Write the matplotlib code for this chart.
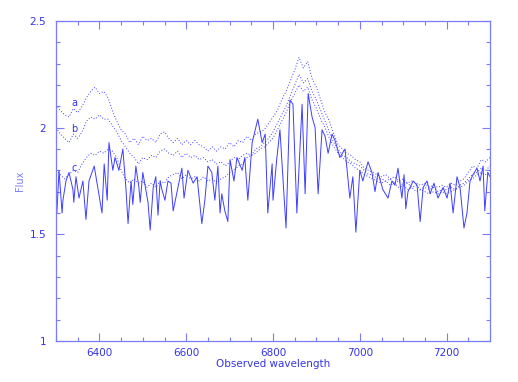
import numpy as np
import matplotlib.pyplot as plt
from matplotlib.ticker import MultipleLocator

# observed spectrum (solid line)
wave_obs = [6300, 6302, 6307, 6314, 6316, 6323, 6330, 6339, 6341, 6346,
            6353, 6362, 6369, 6376, 6388, 6397, 6406, 6411, 6418, 6422,
            6431, 6436, 6445, 6454, 6461, 6466, 6473, 6477, 6484, 6491,
            6494, 6500, 6512, 6517, 6524, 6530, 6535, 6540, 6544, 6551,
            6558, 6565, 6570, 6581, 6590, 6595, 6604, 6616, 6625, 6636,
            6643, 6650, 6659, 6666, 6673, 6678, 6682, 6689, 6696, 6701,
            6710, 6717, 6729, 6735, 6742, 6752, 6759, 6765, 6775, 6782,
            6788, 6798, 6800, 6809, 6816, 6830, 6839, 6846, 6855, 6867,
            6874, 6881, 6890, 6897, 6904, 6913, 6920, 6927, 6936, 6943,
            6954, 6966, 6977, 6984, 6991, 7000, 7007, 7019, 7028, 7035,
            7042, 7053, 7065, 7074, 7081, 7088, 7097, 7102, 7106, 7111,
            7123, 7132, 7139, 7146, 7155, 7162, 7171, 7180, 7192, 7201,
            7208, 7215, 7224, 7231, 7240, 7247, 7254, 7261, 7270, 7277,
            7284, 7288, 7295, 7300]
flux_obs = [1.62, 1.60, 1.80, 1.60, 1.66, 1.75, 1.79, 1.71, 1.65, 1.77,
            1.67, 1.75, 1.57, 1.75, 1.82, 1.71, 1.60, 1.83, 1.66, 1.93,
            1.80, 1.86, 1.80, 1.90, 1.72, 1.55, 1.75, 1.64, 1.82, 1.72,
            1.65, 1.79, 1.65, 1.52, 1.72, 1.77, 1.59, 1.75, 1.71, 1.66,
            1.75, 1.74, 1.61, 1.72, 1.81, 1.67, 1.80, 1.74, 1.77, 1.55,
            1.66, 1.82, 1.79, 1.66, 1.82, 1.60, 1.69, 1.61, 1.56, 1.85,
            1.75, 1.86, 1.80, 1.86, 1.66, 1.93, 1.99, 2.04, 1.93, 1.97,
            1.60, 1.83, 1.66, 1.86, 1.99, 1.53, 2.13, 2.11, 1.60, 2.11,
            1.69, 2.16, 2.05, 2.00, 1.69, 1.99, 1.96, 1.88, 1.97, 1.94,
            1.86, 1.90, 1.67, 1.77, 1.51, 1.80, 1.75, 1.84, 1.79, 1.70,
            1.79, 1.71, 1.67, 1.75, 1.73, 1.81, 1.67, 1.78, 1.62, 1.70,
            1.75, 1.73, 1.56, 1.72, 1.75, 1.69, 1.74, 1.67, 1.72, 1.67,
            1.74, 1.60, 1.77, 1.72, 1.53, 1.60, 1.75, 1.78, 1.81, 1.75,
            1.82, 1.61, 1.79, 1.77]

# model spectra (dotted), sampled every 10 A
wave_mod = np.arange(6300, 7301, 10)
flux_a = [2.11, 2.08, 2.06, 2.05, 2.09, 2.07, 2.10, 2.14, 2.17, 2.19,
          2.16, 2.17, 2.14, 2.08, 2.03, 1.99, 1.97, 1.93, 1.95, 1.92,
          1.96, 1.94, 1.95, 1.93, 1.97, 1.98, 1.95, 1.93, 1.95, 1.92,
          1.94, 1.92, 1.94, 1.92, 1.91, 1.89, 1.91, 1.89, 1.91, 1.90,
          1.93, 1.91, 1.94, 1.93, 1.96, 1.94, 1.97, 1.98, 1.99, 2.02,
          2.05, 2.08, 2.13, 2.17, 2.22, 2.27, 2.33, 2.28, 2.31, 2.23,
          2.19, 2.13, 2.07, 2.03, 1.97, 1.92, 1.90, 1.88, 1.87, 1.85,
          1.84, 1.81, 1.80, 1.79, 1.78, 1.77, 1.78, 1.76, 1.77, 1.75,
          1.76, 1.74, 1.75, 1.74, 1.73, 1.74, 1.72, 1.73, 1.72, 1.73,
          1.72, 1.74, 1.73, 1.75, 1.76, 1.79, 1.82, 1.81, 1.85, 1.84,
          1.86]
flux_b = [2.00, 1.97, 1.95, 1.93, 1.97, 1.95, 1.98, 2.03, 2.05, 2.04,
          2.06, 2.04, 2.04, 2.01, 1.98, 1.94, 1.91, 1.88, 1.86, 1.83,
          1.86, 1.85, 1.87, 1.86, 1.89, 1.90, 1.88, 1.87, 1.89, 1.86,
          1.88, 1.86, 1.87, 1.85, 1.86, 1.84, 1.85, 1.83, 1.84, 1.82,
          1.84, 1.86, 1.85, 1.87, 1.88, 1.87, 1.90, 1.91, 1.93, 1.95,
          1.98, 2.02, 2.06, 2.10, 2.15, 2.20, 2.25, 2.21, 2.23, 2.17,
          2.13, 2.08, 2.03, 1.98, 1.93, 1.90, 1.87, 1.86, 1.84, 1.83,
          1.82, 1.80, 1.78, 1.78, 1.76, 1.76, 1.75, 1.76, 1.74, 1.75,
          1.73, 1.74, 1.72, 1.73, 1.71, 1.72, 1.71, 1.72, 1.70, 1.71,
          1.71, 1.72, 1.71, 1.73, 1.74, 1.76, 1.78, 1.79, 1.81, 1.80,
          1.82]
flux_c = [1.80, 1.78, 1.76, 1.78, 1.80, 1.79, 1.83, 1.86, 1.88, 1.87,
          1.89, 1.88, 1.90, 1.89, 1.86, 1.80, 1.76, 1.74, 1.76, 1.74,
          1.75, 1.72, 1.74, 1.72, 1.75, 1.74, 1.77, 1.78, 1.79, 1.76,
          1.78, 1.76, 1.77, 1.75, 1.77, 1.75, 1.76, 1.74, 1.76, 1.77,
          1.79, 1.80, 1.82, 1.83, 1.86, 1.87, 1.88, 1.90, 1.91, 1.93,
          1.95, 1.99, 2.03, 2.07, 2.12, 2.16, 2.20, 2.17, 2.19, 2.13,
          2.09, 2.04, 2.00, 1.95, 1.91, 1.88, 1.86, 1.84, 1.83, 1.81,
          1.80, 1.78, 1.77, 1.76, 1.75, 1.74, 1.75, 1.73, 1.74, 1.72,
          1.73, 1.71, 1.72, 1.70, 1.71, 1.70, 1.69, 1.70, 1.69, 1.70,
          1.69, 1.70, 1.71, 1.72, 1.73, 1.75, 1.76, 1.78, 1.79, 1.78,
          1.80]

labels = ["a", "b", "c"]
label_pos = [(6342, 2.115), (6342, 1.995), (6341, 1.81)]

line_col = "#3d3dff"
axis_col = "#7b7bff"
text_col = "#3434e6"

fig = plt.figure(figsize=(5.18, 3.82), dpi=100)
ax = fig.add_axes([56 / 518, 1 - 341 / 382, 434 / 518, 320 / 382])

ax.plot(wave_obs, flux_obs, color=line_col, lw=0.7)
for f in (flux_a, flux_b, flux_c):
    ax.plot(wave_mod, f, color=line_col, lw=0.7, linestyle=(0, (1, 2)))

for lab, (x, y) in zip(labels, label_pos):
    ax.text(x, y, lab, color=text_col, fontsize=7, ha="center", va="center")

ax.set_xlim(6300, 7300)
ax.set_ylim(1, 2.5)
ax.xaxis.set_major_locator(MultipleLocator(200))
ax.xaxis.set_minor_locator(MultipleLocator(50))
ax.yaxis.set_major_locator(MultipleLocator(0.5))
ax.yaxis.set_minor_locator(MultipleLocator(0.1))
ax.set_yticks([1, 1.5, 2, 2.5])
ax.set_yticklabels(["1", "1.5", "2", "2.5"])

ax.tick_params(which="both", direction="in", top=True, right=True,
               color=axis_col, labelcolor=text_col, labelsize=7.5, width=0.8)
ax.tick_params(which="major", length=6)
ax.tick_params(which="minor", length=3)
ax.tick_params(axis="x", which="major", pad=5)
ax.tick_params(axis="y", which="major", pad=7)
for s in ax.spines.values():
    s.set_color(axis_col)
    s.set_linewidth(0.9)

ax.set_xlabel("Observed wavelength", color=text_col, fontsize=7.5, labelpad=1)
fig.text(20 / 518, 1 - 181 / 382, "Flux", color=axis_col, fontsize=7,
         rotation=90, ha="center", va="center")

fig.savefig("out.png", dpi=100)
